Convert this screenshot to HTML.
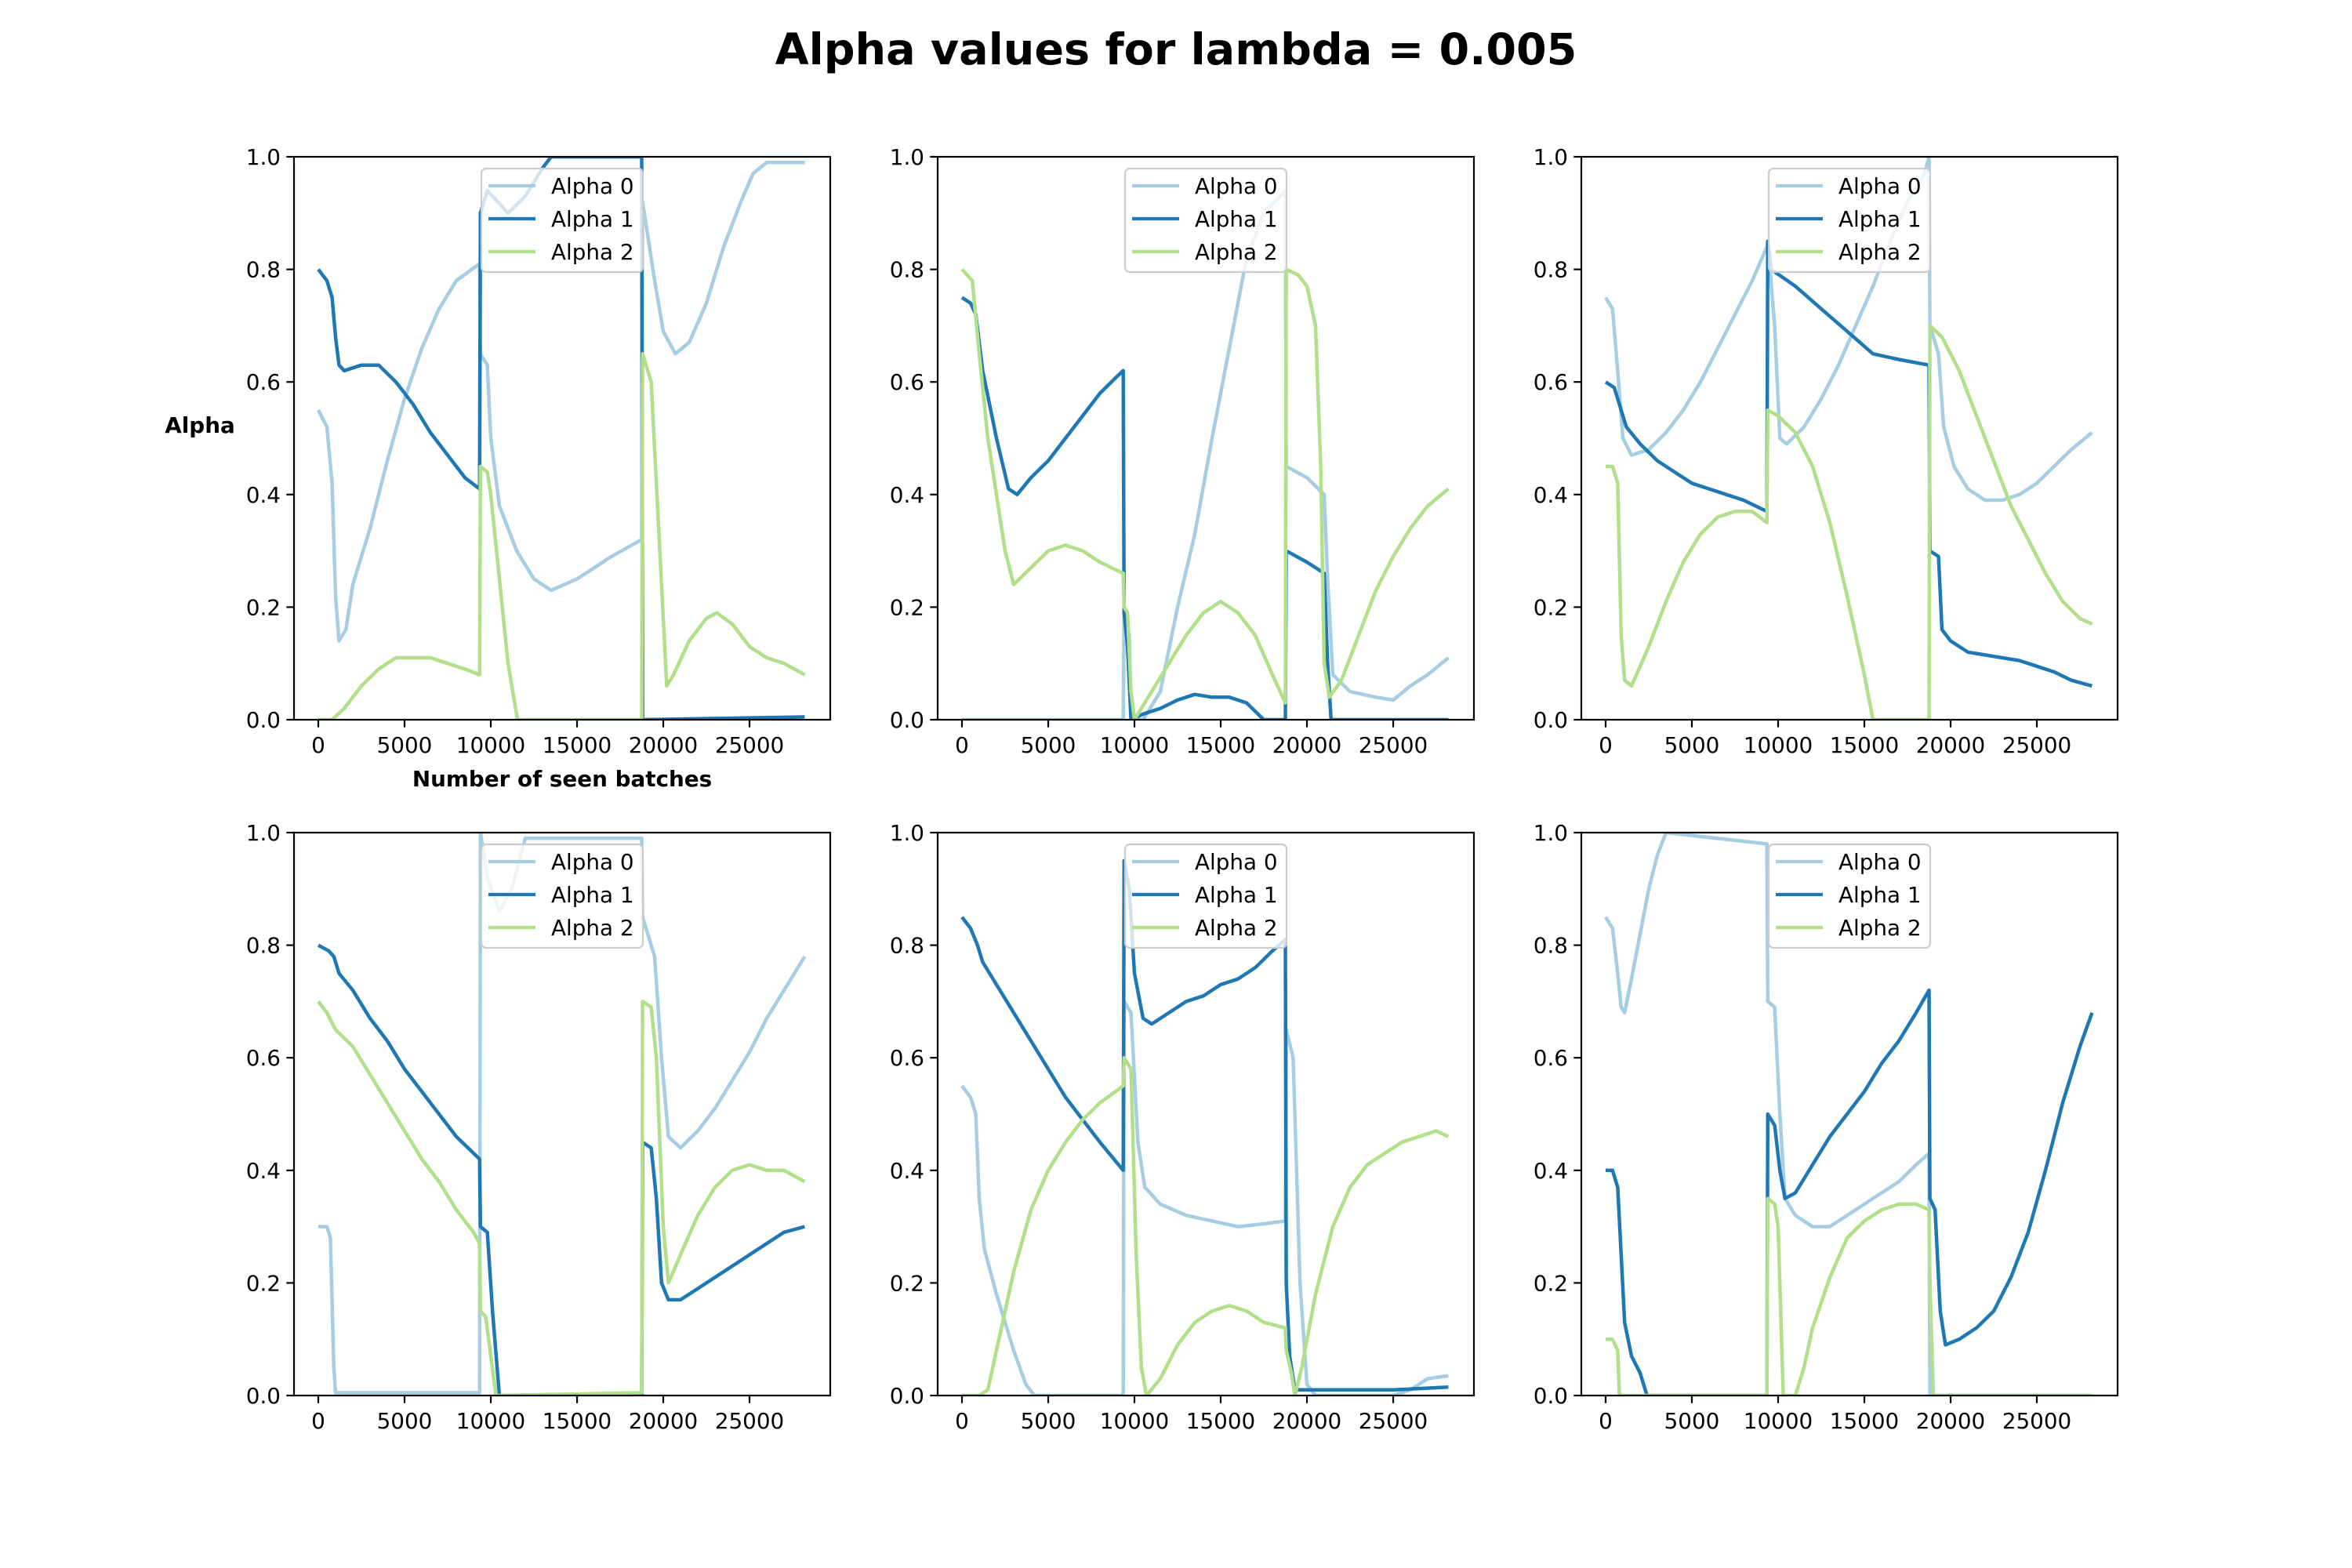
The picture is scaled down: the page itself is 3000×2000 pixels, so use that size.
<!DOCTYPE html>
<html><head><meta charset="utf-8"><style>
html,body{margin:0;padding:0;background:#fff;}
svg{display:block;font-family:"DejaVu Sans","Liberation Sans",sans-serif;}
</style></head><body>
<svg id="fig" width="3000" height="2000" viewBox="0 0 3000 2000" xmlns="http://www.w3.org/2000/svg">
<rect width="3000" height="2000" fill="#fff"/>
<text x="1500" y="82" text-anchor="middle" font-size="55.6" font-weight="bold">Alpha values for lambda = 0.005</text>
<g id="plots"></g>
</svg>
<script>
const seriesNames = ["Alpha 0","Alpha 1","Alpha 2"];
const seriesColors = ["#a6cee3","#1f78b4","#b2df8a"];
const xTicks = [0,5000,10000,15000,20000,25000];
const yTicks = [0,0.2,0.4,0.6,0.8,1.0];
const yTickLabels = ["0.0","0.2","0.4","0.6","0.8","1.0"];

const p1a0 = [[0,.55],[500,.52],[800,.42],[1000,.22],[1200,.14],[1600,.16],[2000,.24],[3000,.34],[4000,.46],[5000,.57],[6000,.66],[7000,.73],[8000,.78],[9350,.81],[9400,.65],[9800,.63],[10000,.5],[10500,.38],[11500,.30],[12500,.25],[13500,.23],[15000,.25],[17000,.29],[18750,.32],[18800,.92],[19500,.78],[20000,.69],[20700,.65],[21500,.67],[22500,.74],[23500,.84],[24500,.92],[25200,.97],[26000,.99],[28200,.99]];
const p1a1 = [[0,.80],[500,.78],[800,.75],[1000,.68],[1200,.63],[1500,.62],[2500,.63],[3500,.63],[4500,.60],[5500,.56],[6500,.51],[7500,.47],[8500,.43],[9350,.41],[9400,.90],[9800,.94],[11000,.90],[12000,.93],[13000,.98],[13500,1.0],[18750,1.0],[18800,0.0],[28200,.005]];
const p1a2 = [[0,0],[800,0],[1500,.02],[2500,.06],[3500,.09],[4500,.11],[5500,.11],[6500,.11],[7500,.10],[8500,.09],[9350,.08],[9400,.45],[9800,.44],[10000,.40],[10500,.25],[11000,.10],[11550,0],[18750,0],[18800,.65],[19300,.6],[19800,.3],[20200,.06],[20600,.08],[21500,.14],[22500,.18],[23100,.19],[24000,.17],[25000,.13],[26000,.11],[27000,.10],[28200,.08]];

const p2a0 = [[0,0],[9350,0],[9400,.19],[9700,.15],[9800,0],[10500,0],[11500,.05],[12500,.2],[13500,.33],[14500,.5],[15500,.66],[16500,.82],[17500,.9],[18750,.94],[18800,.45],[20000,.43],[21000,.40],[21200,.25],[21500,.08],[22500,.05],[24000,.04],[25000,.035],[26000,.06],[27000,.08],[28200,.11]];
const p2a1 = [[0,.75],[500,.74],[800,.72],[1200,.62],[2000,.50],[2700,.41],[3200,.40],[4000,.43],[5000,.46],[6000,.50],[7000,.54],[8000,.58],[9000,.61],[9350,.62],[9400,.19],[9600,.13],[9800,0],[10500,.01],[11500,.02],[12500,.035],[13500,.045],[14500,.04],[15500,.04],[16500,.03],[17500,0],[18750,0],[18800,.30],[20000,.28],[21000,.26],[21200,.1],[21400,0],[28200,0]];
const p2a2 = [[0,.80],[600,.78],[1000,.65],[1500,.50],[2000,.40],[2500,.30],[3000,.24],[4000,.27],[5000,.30],[6000,.31],[7000,.30],[8000,.28],[9350,.26],[9400,.20],[9600,.19],[9800,.05],[10000,0],[11000,.05],[12000,.10],[13000,.15],[14000,.19],[15000,.21],[16000,.19],[17000,.15],[18000,.08],[18750,.03],[18800,.80],[19500,.79],[20000,.77],[20500,.70],[20800,.45],[21000,.10],[21300,.04],[22000,.07],[23000,.15],[24000,.23],[25000,.29],[26000,.34],[27000,.38],[28200,.41]];

const p3a0 = [[0,.75],[400,.73],[700,.62],[1000,.50],[1500,.47],[2500,.48],[3500,.51],[4500,.55],[5500,.60],[6500,.66],[7500,.72],[8500,.78],[9350,.84],[9400,.85],[9800,.70],[10100,.50],[10500,.49],[11500,.52],[12500,.57],[13500,.63],[14500,.70],[15500,.77],[16500,.85],[17500,.92],[18500,.97],[18750,1.0],[18800,.70],[19300,.65],[19600,.52],[20200,.45],[21000,.41],[22000,.39],[23000,.39],[24000,.40],[25000,.42],[26000,.45],[27000,.48],[28200,.51]];
const p3a1 = [[0,.60],[500,.59],[800,.56],[1200,.52],[2000,.49],[3000,.46],[4000,.44],[5000,.42],[6000,.41],[7000,.40],[8000,.39],[9350,.37],[9400,.85],[9600,.80],[11000,.77],[12500,.73],[14000,.69],[15500,.65],[17000,.64],[18750,.63],[18800,.30],[19300,.29],[19500,.16],[20000,.14],[21000,.12],[22000,.115],[23000,.11],[24000,.105],[25000,.095],[26000,.085],[27000,.07],[28200,.06]];
const p3a2 = [[0,.45],[400,.45],[700,.42],[900,.15],[1100,.07],[1500,.06],[2500,.13],[3500,.21],[4500,.28],[5500,.33],[6500,.36],[7500,.37],[8500,.37],[9350,.35],[9400,.55],[10000,.54],[11000,.51],[12000,.45],[13000,.35],[14000,.22],[15000,.08],[15500,0],[18750,0],[18800,.70],[19500,.68],[20500,.62],[21500,.54],[22500,.46],[23500,.38],[24500,.32],[25500,.26],[26500,.21],[27500,.18],[28200,.17]];

const p4a0 = [[0,.30],[500,.30],[700,.28],[900,.05],[1000,.005],[9350,.005],[9400,1.0],[9800,.92],[10500,.86],[11200,.9],[12000,.99],[18750,.99],[18800,.85],[19500,.78],[19900,.6],[20300,.46],[21000,.44],[22000,.47],[23000,.51],[24000,.56],[25000,.61],[26000,.67],[27000,.72],[28200,.78]];
const p4a1 = [[0,.80],[600,.79],[900,.78],[1200,.75],[2000,.72],[3000,.67],[4000,.63],[5000,.58],[6000,.54],[7000,.50],[8000,.46],[9350,.42],[9400,.30],[9800,.29],[10100,.15],[10500,0],[18750,0],[18800,.45],[19300,.44],[19600,.35],[19900,.20],[20300,.17],[21000,.17],[22000,.19],[23000,.21],[24000,.23],[25000,.25],[26000,.27],[27000,.29],[28200,.30]];
const p4a2 = [[0,.70],[500,.68],[1000,.65],[2000,.62],[3000,.57],[4000,.52],[5000,.47],[6000,.42],[7000,.38],[8000,.33],[9000,.29],[9350,.27],[9400,.15],[9700,.14],[10000,.07],[10300,0],[18750,.005],[18800,.70],[19300,.69],[19600,.60],[20000,.30],[20300,.20],[21000,.25],[22000,.32],[23000,.37],[24000,.40],[25000,.41],[26000,.40],[27000,.40],[28200,.38]];

const p5a0 = [[0,.55],[500,.53],[800,.50],[1000,.35],[1300,.26],[2000,.18],[3000,.08],[3700,.02],[4200,0],[9350,0],[9400,.70],[9800,.68],[10200,.45],[10600,.37],[11500,.34],[13000,.32],[14500,.31],[16000,.30],[17500,.305],[18750,.31],[18800,.65],[19200,.60],[19600,.20],[20000,.02],[20500,0],[25000,0],[26000,.01],[27000,.03],[28200,.035]];
const p5a1 = [[0,.85],[500,.83],[900,.80],[1200,.77],[2000,.73],[3000,.68],[4000,.63],[5000,.58],[6000,.53],[7000,.49],[8000,.45],[9350,.40],[9400,.95],[9700,.90],[10000,.75],[10500,.67],[11000,.66],[12000,.68],[13000,.70],[14000,.71],[15000,.73],[16000,.74],[17000,.76],[18000,.79],[18750,.81],[18800,.20],[19000,.07],[19300,.01],[22000,.01],[25000,.01],[28200,.015]];
const p5a2 = [[0,0],[1000,0],[1500,.01],[2000,.08],[3000,.22],[4000,.33],[5000,.40],[6000,.45],[7000,.49],[8000,.52],[9350,.55],[9400,.60],[9800,.58],[10100,.25],[10400,.05],[10700,0],[11500,.03],[12500,.09],[13500,.13],[14500,.15],[15500,.16],[16500,.15],[17500,.13],[18750,.12],[18800,.08],[19100,.04],[19300,0],[19700,.05],[20500,.18],[21500,.30],[22500,.37],[23500,.41],[24500,.43],[25500,.45],[26500,.46],[27500,.47],[28200,.46]];

const p6a0 = [[0,.85],[400,.83],[700,.75],[900,.69],[1100,.68],[1500,.74],[2000,.82],[2500,.90],[3000,.96],[3500,1.0],[9350,.98],[9400,.70],[9800,.69],[10100,.50],[10400,.35],[11000,.32],[12000,.30],[13000,.30],[14000,.32],[15000,.34],[16000,.36],[17000,.38],[18000,.41],[18750,.43],[18800,0],[28200,0]];
const p6a1 = [[0,.40],[400,.40],[700,.37],[900,.25],[1100,.13],[1500,.07],[2000,.04],[2400,0],[9350,0],[9400,.50],[9800,.48],[10100,.40],[10400,.35],[11000,.36],[12000,.41],[13000,.46],[14000,.50],[15000,.54],[16000,.59],[17000,.63],[18000,.68],[18750,.72],[18800,.35],[19100,.33],[19400,.15],[19700,.09],[20500,.10],[21500,.12],[22500,.15],[23500,.21],[24500,.29],[25500,.40],[26500,.52],[27500,.62],[28200,.68]];
const p6a2 = [[0,.10],[400,.10],[700,.08],[800,0],[9350,0],[9400,.35],[9800,.34],[10000,.30],[10300,0],[11000,0],[11500,.05],[12000,.12],[13000,.21],[14000,.28],[15000,.31],[16000,.33],[17000,.34],[18000,.34],[18750,.33],[18800,.20],[19000,0],[28200,0]];

const panels = [[p1a0,p1a1,p1a2],[p2a0,p2a1,p2a2],[p3a0,p3a1,p3a2],[p4a0,p4a1,p4a2],[p5a0,p5a1,p5a2],[p6a0,p6a1,p6a2]];

const NS="http://www.w3.org/2000/svg";
const root=document.getElementById('plots');
function mk(tag,attrs,parent){const e=document.createElementNS(NS,tag);for(const k in attrs)e.setAttribute(k,attrs[k]);(parent||root).appendChild(e);return e;}
const AX_L=[375,1196,2017], AX_T=[200,1062], AX_W=684, AX_H=718;
const XMIN=-1409, XMAX=29680;

panels.forEach((series,pi)=>{
  const col=pi%3,row=Math.floor(pi/3);
  const L=AX_L[col],T=AX_T[row];
  const sx=x=>L+(x-XMIN)/(XMAX-XMIN)*AX_W;
  const sy=y=>T+AX_H-y*AX_H;
  const g=mk('g',{});
  
  
  const cid='clip'+pi;
  const cp=mk('clipPath',{id:cid},g);mk('rect',{x:L,y:T,width:AX_W,height:AX_H},cp);
  series.forEach((pts,si)=>{
    const d=pts.map((p,i)=>(i?'L':'M')+sx(p[0]).toFixed(1)+' '+sy(p[1]).toFixed(1)).join(' ');
    const path=mk('path',{d:d,fill:'none',stroke:seriesColors[si],'stroke-width':4.5,'stroke-linejoin':'round','clip-path':'url(#'+cid+')'},g);
    
    
  });
  const fr=mk('rect',{x:L,y:T,width:AX_W,height:AX_H,fill:'none',stroke:'#000','stroke-width':2.2},g);
  
  
  xTicks.forEach(v=>{
    const x=sx(v);
    mk('line',{x1:x,x2:x,y1:T+AX_H,y2:T+AX_H+9.7,stroke:'#000','stroke-width':2.2},g);
    const t=mk('text',{x:x,y:T+AX_H+42,'text-anchor':'middle','font-size':27.8},g);
    t.textContent=String(v);
    
    
  });
  yTicks.forEach((v,i)=>{
    const y=sy(v);
    mk('line',{x1:L-9.7,x2:L,y1:y,y2:y,stroke:'#000','stroke-width':2.2},g);
    const t=mk('text',{x:L-17,y:y+10,'text-anchor':'end','font-size':27.8},g);
    t.textContent=yTickLabels[i];
    
    
  });
  const lg=mk('g',{},g);
  
  
  const cx=L+AX_W/2, lw=206, lt=T+15;
  mk('rect',{x:cx-lw/2,y:lt,width:lw,height:132,rx:6,fill:'#fff','fill-opacity':0.8,stroke:'#cccccc','stroke-width':2.2},lg);
  seriesNames.forEach((n,si)=>{
    const y=lt+22+42*si;
    const ln=mk('line',{x1:cx-lw/2+9,x2:cx-lw/2+69,y1:y,y2:y,stroke:seriesColors[si],'stroke-width':4.2},lg);
    
    
    const t=mk('text',{x:cx-lw/2+89,y:y+10,'font-size':27.8},lg);
    t.textContent=n;
    
    
  });
  if(pi===0){
    const yl=mk('text',{x:255,y:552,'text-anchor':'middle','font-size':27.8,'font-weight':'bold'},g);
    yl.textContent='Alpha';
    
    
    const xl=mk('text',{x:L+AX_W/2,y:1003,'text-anchor':'middle','font-size':27.8,'font-weight':'bold'},g);
    xl.textContent='Number of seen batches';
    
    
  }
});
</script>
</body></html>
